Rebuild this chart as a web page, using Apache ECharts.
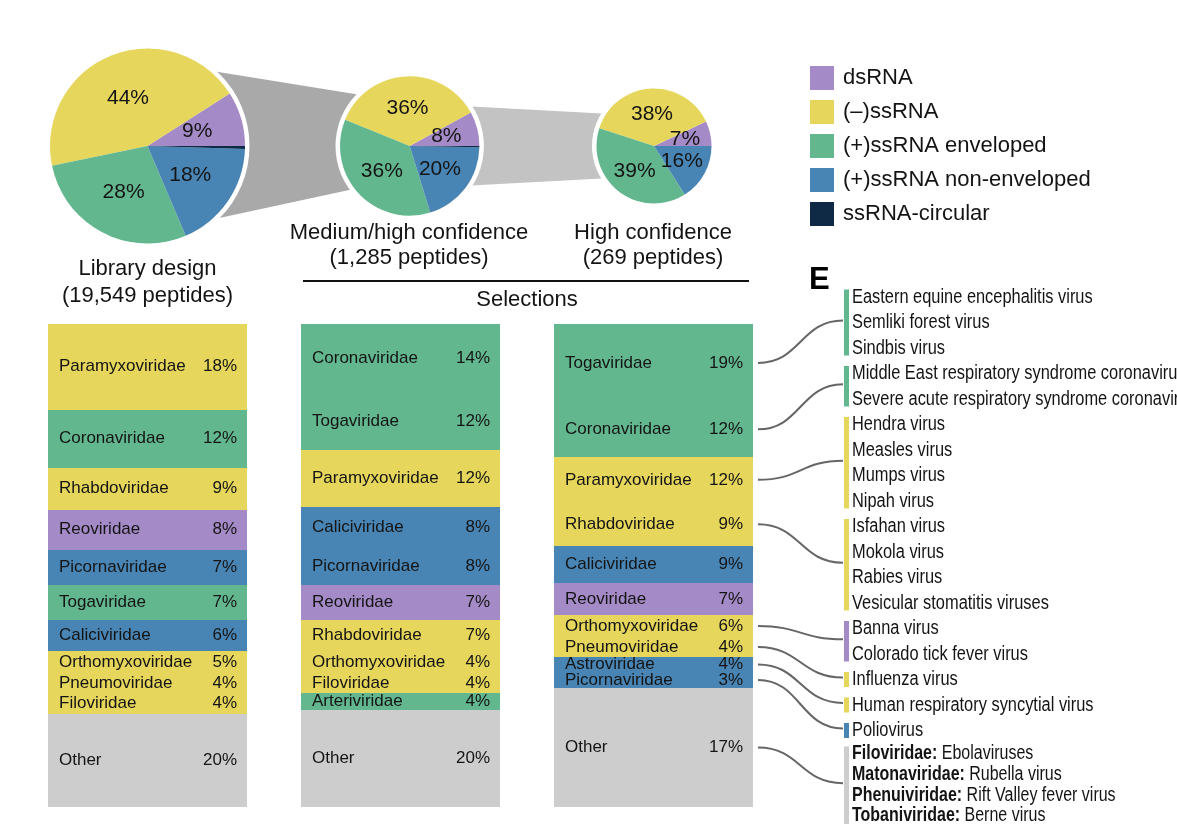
<!DOCTYPE html>
<html><head><meta charset="utf-8">
<script src="https://cdn.jsdelivr.net/npm/echarts@6/dist/echarts.min.js"></script>
<style>html,body{margin:0;padding:0;background:#fff;}#c{width:1177px;height:824px;}</style>
</head><body><div id="c"></div>
<script>
// ---------------- data ----------------
const typeNames = ['dsRNA', '(–)ssRNA', '(+)ssRNA enveloped', '(+)ssRNA non-enveloped', 'ssRNA-circular'];
const typeColors = ['#a48ac6', '#e6d65b', '#63b78f', '#4985b4', '#0e2a45'];
const otherColor = '#cdcdcd';

const pieLibrary = [9, 44, 28, 18, 0.5];
const pieMedium = [8, 36, 36, 20, 0.3];
const pieHigh = [7, 38, 39, 16, 0];

const setTitles = [['Library design', '(19,549 peptides)'], ['Medium/high confidence', '(1,285 peptides)'], ['High confidence', '(269 peptides)']];
const barCategories = ['Library design', 'Medium/high confidence', 'High confidence'];

// family -> genome type index (-1 = other)
const familyType = {Paramyxoviridae: 1, Coronaviridae: 2, Rhabdoviridae: 1, Reoviridae: 0, Picornaviridae: 3,
  Togaviridae: 2, Caliciviridae: 3, Orthomyxoviridae: 1, Pneumoviridae: 1, Filoviridae: 1,
  Arteriviridae: 2, Astroviridae: 3, Other: -1};

const libFamilies = ['Paramyxoviridae', 'Coronaviridae', 'Rhabdoviridae', 'Reoviridae', 'Picornaviridae', 'Togaviridae', 'Caliciviridae', 'Orthomyxoviridae', 'Pneumoviridae', 'Filoviridae', 'Other'];
const libShare = [17.7, 12.1, 8.6, 8.3, 7.4, 7.1, 6.4, 4.6, 4.1, 4.3, 19.4];
const libPrinted = [18, 12, 9, 8, 7, 7, 6, 5, 4, 4, 20];

const medFamilies = ['Coronaviridae', 'Togaviridae', 'Paramyxoviridae', 'Caliciviridae', 'Picornaviridae', 'Reoviridae', 'Rhabdoviridae', 'Orthomyxoviridae', 'Filoviridae', 'Arteriviridae', 'Other'];
const medShare = [14.2, 11.9, 11.7, 8.5, 7.8, 7.1, 6.6, 4.6, 4.0, 3.5, 20.1];
const medPrinted = [14, 12, 12, 8, 8, 7, 7, 4, 4, 4, 20];

const highFamilies = ['Togaviridae', 'Coronaviridae', 'Paramyxoviridae', 'Rhabdoviridae', 'Caliciviridae', 'Reoviridae', 'Orthomyxoviridae', 'Pneumoviridae', 'Astroviridae', 'Picornaviridae', 'Other'];
const highShare = [16.1, 11.4, 9.5, 8.9, 7.7, 6.6, 4.6, 4.1, 3.1, 3.3, 24.7];
const highPrinted = [19, 12, 12, 9, 9, 7, 6, 4, 4, 3, 17];

const groupViruses = [
  ['Eastern equine encephalitis virus', 'Semliki forest virus', 'Sindbis virus'],
  ['Middle East respiratory syndrome coronavirus', 'Severe acute respiratory syndrome coronavirus'],
  ['Hendra virus', 'Measles virus', 'Mumps virus', 'Nipah virus'],
  ['Isfahan virus', 'Mokola virus', 'Rabies virus', 'Vesicular stomatitis viruses'],
  ['Banna virus', 'Colorado tick fever virus'],
  ['Influenza virus'],
  ['Human respiratory syncytial virus'],
  ['Poliovirus'],
  ['Filoviridae: Ebolaviruses', 'Matonaviridae: Rubella virus', 'Phenuiviridae: Rift Valley fever virus', 'Tobaniviridae: Berne virus']
];
const groupType = [2, 2, 1, 1, 0, 1, 1, 3, -1];
// index of the High-confidence segment linked to each group
const linkFrom = [0, 1, 2, 3, 6, 7, 8, 9, 10];

// ---------------- layout ----------------
const FONT = "'Liberation Sans', Arial, Helvetica, sans-serif";
const INK = '#141414';
const PIES = [{c: [147.5, 146], r: 97.5}, {c: [409.7, 146], r: 69.7}, {c: [654, 146], r: 57.5}];
const TITLE_POS = [[147.5, 269, 295.5], [409, 232.5, 258], [653, 232.5, 258]];
const BAR_W = 199;
const LABEL_FS = 17;
const LIST = {x: 852, barX: 844, barW: 5, y0: 297, step: 25.5, tight: 20.7, narrow: 0.82};

const colorOf = f => familyType[f] < 0 ? otherColor : typeColors[familyType[f]];

// ---------------- pies ----------------
function pieData(vals) {
  return vals.map((v, i) => ({value: v, name: typeNames[i], itemStyle: {color: typeColors[i]}, label: {show: i !== 4}}));
}
const pieSets = [pieLibrary, pieMedium, pieHigh];
const series = [];
pieSets.forEach((vals, k) => {
  series.push({
    type: 'pie', center: PIES[k].c, radius: PIES[k].r + 4.5, silent: true, z: 2,
    label: {show: false}, labelLine: {show: false}, emphasis: {disabled: true},
    data: [{value: 1, name: 'ring', itemStyle: {color: '#ffffff', borderWidth: 0}}]
  });
  series.push({
    type: 'pie', center: PIES[k].c, radius: PIES[k].r, startAngle: 0, clockwise: false, z: 3,
    silent: true, emphasis: {disabled: true}, avoidLabelOverlap: false,
    itemStyle: {borderWidth: 0},
    label: {position: 'inside', formatter: '{c}%', fontSize: 21, fontFamily: FONT, color: INK},
    labelLine: {show: false},
    data: pieData(vals)
  });
});

// ---------------- stacked bars (custom series, pixel-snapped) ----------------
const bars = [[libFamilies, libShare, libPrinted], [medFamilies, medShare, medPrinted], [highFamilies, highShare, highPrinted]];
const segs = [];
bars.forEach((b, cat) => {
  let acc = 0;
  b[1].forEach((v, s) => {
    segs.push({cat, start: acc, end: acc + v, name: b[0][s], pct: b[2][s], color: colorOf(b[0][s])});
    acc += v;
  });
});
series.push({
  type: 'custom', coordinateSystem: 'cartesian2d', xAxisIndex: 0, yAxisIndex: 0, silent: true, z: 2,
  encode: {x: 0, y: [1, 2]},
  data: segs.map(s => [s.cat, s.start, s.end]),
  renderItem: (params, api) => {
    const sg = segs[params.dataIndex];
    const p0 = api.coord([api.value(0), api.value(1)]);
    const p1 = api.coord([api.value(0), api.value(2)]);
    const left = Math.round(p0[0] - BAR_W / 2);
    const top = Math.round(p0[1]), bottom = Math.round(p1[1]);
    const mid = (p0[1] + p1[1]) / 2;
    return {type: 'group', children: [
      {type: 'rect', shape: {x: left, y: top, width: BAR_W, height: bottom - top}, style: {fill: sg.color}},
      {type: 'text', x: left + 11, y: mid, z2: 50, style: {text: sg.name, fontSize: LABEL_FS, fontFamily: FONT, fill: INK, align: 'left', verticalAlign: 'middle'}},
      {type: 'text', x: left + BAR_W - 10, y: mid, z2: 50, style: {text: sg.pct + '%', fontSize: LABEL_FS, fontFamily: FONT, fill: INK, align: 'right', verticalAlign: 'middle'}}
    ]};
  }
});

// ---------------- right list layout ----------------
const listGraphics = [];
const groupBoxes = [];
let yy = LIST.y0;
groupViruses.forEach((g, gi) => {
  const tight = gi === groupViruses.length - 1;
  const step = tight ? LIST.tight : LIST.step;
  const fs = tight ? 19.5 : 20;
  if (tight) yy -= 2;
  const first = yy;
  g.forEach(name => {
    let text = name, rich = undefined;
    const i = name.indexOf(':');
    if (i > 0) {
      text = '{b|' + name.slice(0, i + 1) + '} ' + name.slice(i + 2);
      rich = {b: {fontWeight: 'bold', fontSize: fs, fontFamily: FONT, fill: INK}};
    }
    listGraphics.push({type: 'text', x: LIST.x, y: yy, scaleX: LIST.narrow, silent: true,
      style: {text, rich, fontSize: fs, fontFamily: FONT, fill: INK, align: 'left', verticalAlign: 'middle'}});
    yy += step;
  });
  const last = yy - step;
  const box = {top: first - 7.5, bottom: tight ? 830 : last + 7.5};
  groupBoxes.push(box);
  listGraphics.push({type: 'rect', silent: true, shape: {x: LIST.barX, y: box.top, width: LIST.barW, height: box.bottom - box.top},
    style: {fill: groupType[gi] < 0 ? otherColor : typeColors[groupType[gi]]}});
});

// links from High-confidence bar segments to groups
const highCum = [];
highShare.reduce((a, v, i) => { highCum[i] = a; return a + v; }, 0);
const linkData = linkFrom.map((si, gi) => [2, highCum[si] + highShare[si] / 2, gi]);
series.push({
  type: 'custom', coordinateSystem: 'cartesian2d', xAxisIndex: 0, yAxisIndex: 0, silent: true, z: 4,
  encode: {x: 0, y: 1},
  data: linkData,
  renderItem: (params, api) => {
    const p = api.coord([api.value(0), api.value(1)]);
    const x1 = p[0] + BAR_W / 2 + 5, y1 = p[1];
    const b = groupBoxes[api.value(2)];
    const x2 = LIST.barX - 1, y2 = (b.top + Math.min(b.bottom, 824)) / 2 - 2;
    const cx = (x1 + x2) / 2;
    return {type: 'bezierCurve', shape: {x1, y1, x2, y2, cpx1: cx, cpy1: y1, cpx2: cx, cpy2: y2},
      style: {stroke: '#666666', lineWidth: 2, fill: null}};
  }
});

// ---------------- decorations ----------------
const graphics = [
  {type: 'polygon', silent: true, z: 0, shape: {points: [[206, 70], [367, 96], [363, 187], [210, 220]]}, style: {fill: '#a9a9a9'}},
  {type: 'polygon', silent: true, z: 0, shape: {points: [[462, 106], [611, 114], [611, 178], [462, 186]]}, style: {fill: '#c3c3c3'}},
  {type: 'line', silent: true, shape: {x1: 303, y1: 281, x2: 749, y2: 281}, style: {stroke: '#111', lineWidth: 2}},
  {type: 'text', x: 527, y: 300, silent: true, style: {text: 'Selections', fontSize: 22, fontFamily: FONT, fill: INK, align: 'center', verticalAlign: 'middle'}},
  {type: 'text', x: 809, y: 280, silent: true, style: {text: 'E', fontSize: 31, fontWeight: 'bold', fontFamily: FONT, fill: '#000', align: 'left', verticalAlign: 'middle'}}
];
setTitles.forEach((t, k) => {
  graphics.push({type: 'text', x: TITLE_POS[k][0], y: TITLE_POS[k][1], silent: true, style: {text: t[0], fontSize: 22, fontFamily: FONT, fill: INK, align: 'center', verticalAlign: 'middle'}});
  graphics.push({type: 'text', x: TITLE_POS[k][0], y: TITLE_POS[k][2], silent: true, style: {text: t[1], fontSize: 22, fontFamily: FONT, fill: INK, align: 'center', verticalAlign: 'middle'}});
});

const chart = echarts.init(document.getElementById('c'), null, {renderer: 'canvas'});
chart.setOption({
  animation: false,
  backgroundColor: '#ffffff',
  textStyle: {fontFamily: FONT},
  legend: {
    data: typeNames, orient: 'vertical', left: 810, top: 66, padding: 0,
    itemWidth: 24, itemHeight: 24, itemGap: 10, icon: 'rect', selectedMode: false,
    textStyle: {fontSize: 22, fontFamily: FONT, color: INK, padding: [0, 0, 0, 4]}
  },
  grid: {left: 21, right: 397, top: 324, bottom: 16.7},
  xAxis: {type: 'category', data: barCategories, show: false},
  yAxis: {type: 'value', min: 0, max: 100, inverse: true, show: false},
  graphic: graphics.concat(listGraphics),
  series
});
</script></body></html>
